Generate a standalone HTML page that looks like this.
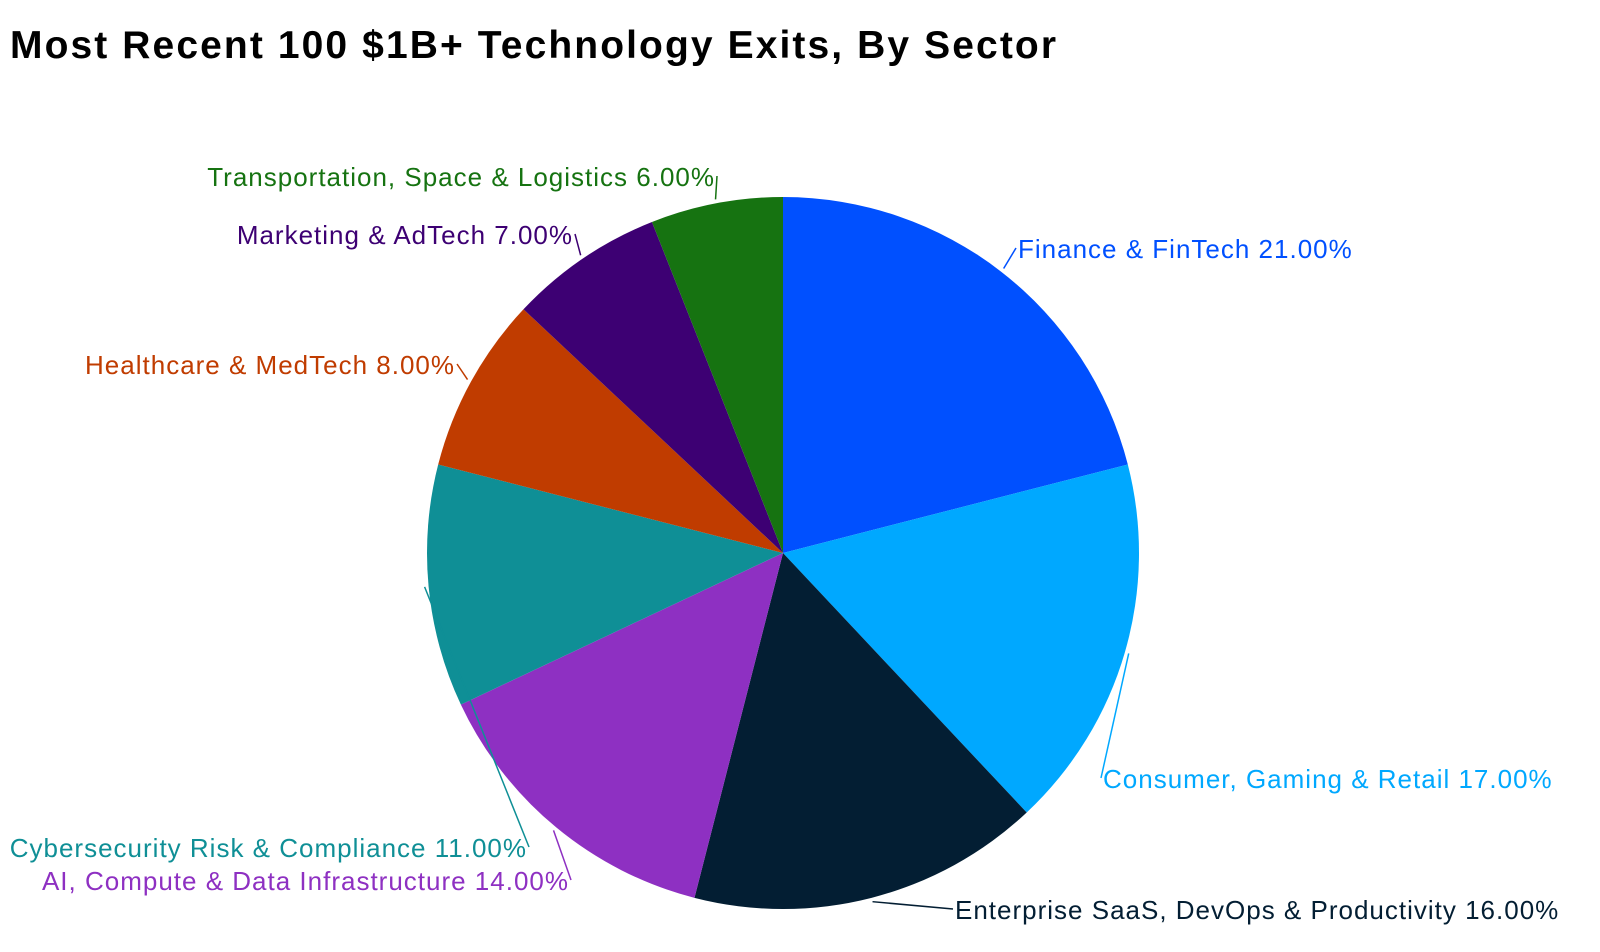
<!DOCTYPE html>
<html><head><meta charset="utf-8"><style>
html,body{margin:0;padding:0;background:#fff;}
svg{display:block;}
</style></head><body>
<svg id="chart" width="1600" height="952" viewBox="0 0 1600 952" xmlns="http://www.w3.org/2000/svg">
<text x="10" y="58" font-family="Liberation Sans, sans-serif" font-weight="bold" font-size="39" textLength="1046" lengthAdjust="spacing" fill="#000">Most Recent 100 $1B+ Technology Exits, By Sector</text>
<g id="slices"></g><g id="labels"></g>
</svg>
<script>
const categories=["Finance & FinTech","Consumer, Gaming & Retail","Enterprise SaaS, DevOps & Productivity","AI, Compute & Data Infrastructure","Cybersecurity Risk & Compliance","Healthcare & MedTech","Marketing & AdTech","Transportation, Space & Logistics"];
const values=[21,17,16,14,11,8,7,6];
const colors=["#0050ff","#00a8ff","#031e33","#8e30c2","#0f8f96","#c03c00","#3d0073","#167311"];
const labelPos=[[1018,258,"start"],[1103,788,"start"],[955,919,"start"],[569,890,"end"],[527,857,"end"],[455,374,"end"],[573,244,"end"],[715,186,"end"]];
const cx=783,cy=553,r=356;
const NS="http://www.w3.org/2000/svg";
const total=values.reduce((a,b)=>a+b,0);
const ang=v=>v/total*2*Math.PI;
const pt=(a,rr)=>[cx+rr*Math.sin(a),cy-rr*Math.cos(a)];
const gS=document.getElementById('slices'),gL=document.getElementById('labels');
let acc=0;
values.forEach((v,i)=>{
  const a0=ang(acc),a1=ang(acc+v);acc+=v;
  const p0=pt(a0,r),p1=pt(a1,r);
  const path=document.createElementNS(NS,'path');
  path.setAttribute('d',`M${cx},${cy}L${p0[0]},${p0[1]}A${r},${r} 0 ${a1-a0>Math.PI?1:0} 1 ${p1[0]},${p1[1]}Z`);
  path.setAttribute('fill',colors[i]);
  
  
  gS.appendChild(path);
  const am=(a0+a1)/2,pm=pt(am,r+4);
  const lp=labelPos[i];
  const line=document.createElementNS(NS,'polyline');
  line.setAttribute('points',`${pm[0]},${pm[1]} ${lp[0]+(lp[2]==='start'?-2:2)},${lp[1]-10}`);
  line.setAttribute('fill','none');line.setAttribute('stroke',colors[i]);line.setAttribute('stroke-width','1.5');
  
  
  gL.appendChild(line);
  const t=document.createElementNS(NS,'text');
  t.setAttribute('x',lp[0]);t.setAttribute('y',lp[1]);t.setAttribute('text-anchor',lp[2]);
  t.setAttribute('font-family','Liberation Sans, DejaVu Sans, sans-serif');t.setAttribute('font-size','26');
  t.setAttribute('letter-spacing','1');
  t.setAttribute('fill',colors[i]);
  t.textContent=categories[i]+' '+v.toFixed(2)+'%';
  
  
  gL.appendChild(t);
});
</script>
</body></html>
